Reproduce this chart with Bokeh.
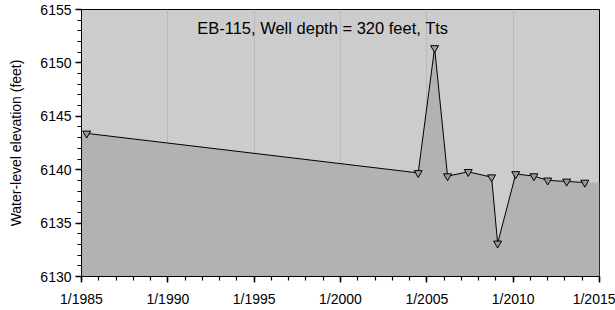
from bokeh.plotting import figure
from bokeh.models import Range1d, FixedTicker, Label
from bokeh.embed import file_html
from bokeh.resources import INLINE

# Data (decimal years, water-level elevation in feet)
years = [1985.3, 2004.5, 2005.45, 2006.2, 2007.4, 2008.75, 2009.1, 2010.15, 2011.2, 2012.0, 2013.1, 2014.15]
levels = [6143.4, 6139.7, 6151.4, 6139.4, 6139.8, 6139.3, 6133.1, 6139.6, 6139.4, 6139.0, 6138.9, 6138.8]

x_ticks = [1985, 1990, 1995, 2000, 2005, 2010, 2015]
x_tick_labels = ["1/1985", "1/1990", "1/1995", "1/2000", "1/2005", "1/2010", "1/2015"]
x_minor = list(range(1985, 2016))
y_ticks = [6130, 6135, 6140, 6145, 6150, 6155]
y_minor = list(range(6130, 6156))

title_text = "EB-115, Well depth = 320 feet, Tts"
y_label = "Water-level elevation (feet)"

FONT = "Liberation Sans"

p = figure(width=615, height=310, output_backend="svg", toolbar_location=None,
           x_range=Range1d(1985, 2015), y_range=Range1d(6130, 6155),
           min_border_left=81, min_border_right=16, min_border_top=9, min_border_bottom=34)

p.background_fill_color = "#cccccc"
p.border_fill_color = "white"
p.outline_line_color = "black"
p.outline_line_width = 1

# Fill under the line, extended to plot edges
fx = [x_ticks[0]] + years + [x_ticks[-1]]
fy = [levels[0]] + levels + [levels[-1]]
p.varea(x=fx, y1=[y_ticks[0]] * len(fx), y2=fy, fill_color="#b2b2b2")

p.line(years, levels, line_color="black", line_width=1)
p.scatter(years, levels, marker="inverted_triangle", size=8,
          fill_color="#9a9a9a", line_color="black", line_width=1)

# Axes
p.xaxis.ticker = FixedTicker(ticks=x_ticks, minor_ticks=x_minor)
p.xaxis.major_label_overrides = {t: l for t, l in zip(x_ticks, x_tick_labels)}
p.yaxis.ticker = FixedTicker(ticks=y_ticks, minor_ticks=y_minor)

for ax in (p.xaxis[0], p.yaxis[0]):
    ax.axis_line_color = "black"
    ax.axis_line_width = 1
    ax.major_tick_line_color = "black"
    ax.minor_tick_line_color = "black"
    ax.major_tick_line_width = 1.5
    ax.minor_tick_line_width = 1.2
    ax.major_tick_out = 6
    ax.major_tick_in = 0
    ax.minor_tick_out = 4
    ax.minor_tick_in = 0
    ax.major_label_text_font = FONT
    ax.major_label_text_font_size = "14px"
    ax.major_label_text_color = "black"

p.xaxis.major_label_standoff = 8
p.yaxis.major_label_standoff = 4

p.yaxis.axis_label = y_label
p.yaxis.axis_label_text_font = FONT
p.yaxis.axis_label_text_font_size = "14px"
p.yaxis.axis_label_text_font_style = "normal"
p.yaxis.axis_label_text_color = "black"
p.yaxis.axis_label_standoff = 13

# Grid
p.xgrid.ticker = FixedTicker(ticks=x_ticks)
p.xgrid.grid_line_color = "#bababa"
p.xgrid.grid_line_width = 1
p.ygrid.grid_line_color = None

p.add_layout(Label(x=1991.7, y=6153.25, text=title_text, text_font=FONT,
                   text_font_size="16.5px", text_color="black",
                   text_baseline="middle", text_align="left"))

open("out.html", "w").write(file_html(p, INLINE))
